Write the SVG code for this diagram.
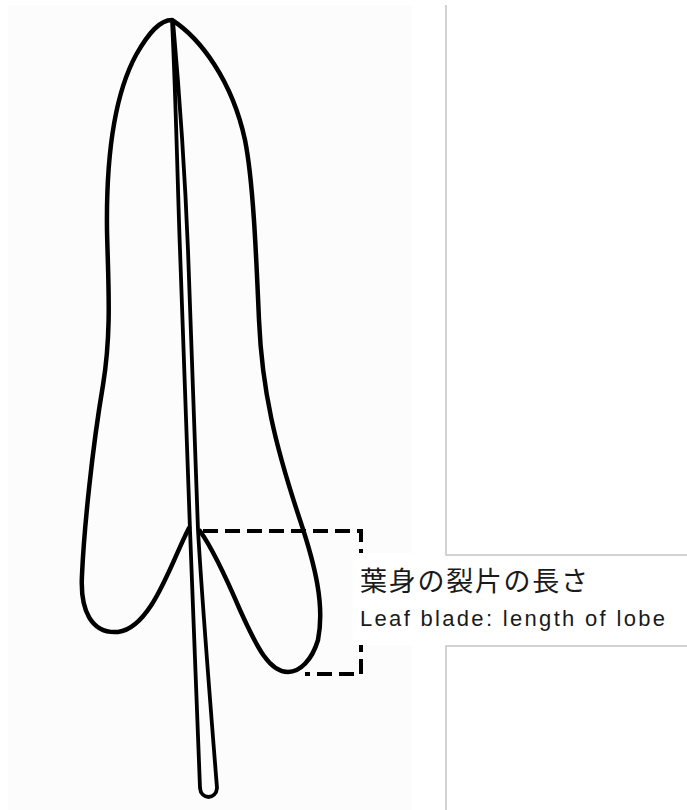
<svg xmlns="http://www.w3.org/2000/svg" width="687" height="810" viewBox="0 0 687 810">
  <style>
    .ink { fill: none; stroke: #000; stroke-width: 4.5; stroke-linecap: round; stroke-linejoin: round; }
    .stem { fill: none; stroke: #000; stroke-width: 3.8; stroke-linecap: round; stroke-linejoin: round; }
    .dash { fill: none; stroke: #000; stroke-width: 4; stroke-dasharray: 15 7; }
    .rule { stroke: #c4c4c4; stroke-width: 1.5; fill: none; }
    .jp { font-family: "Noto Sans CJK JP", "Noto Sans", sans-serif; font-size: 27px; fill: #1a1a1a; }
    .en { font-family: "Liberation Sans", Arial, sans-serif; font-size: 22px; fill: #1a1a1a; }
  </style>
  <rect x="0" y="0" width="687" height="810" fill="#ffffff"/>
  <rect x="8" y="5" width="404" height="805" fill="#fcfcfc"/>

  <g id="leaf">
    <path class="ink" d="M189,528 C172,560 152,628 118,632 C91,634 80,610 82,575 C84,530 92,450 103,385 C112,330 108,280 107,230 C106,150 116,92 136,55 C149,32 160,20 172,20 C200,38 232,80 245,140 C253,180 256,250 259,320 C262,390 275,445 300,520 C315,565 325,605 318,640 C312,660 300,672 288,672 C270,672 258,650 240,610 C225,575 210,545 200,531"/>
  </g>
  <g id="stem">
    <path class="stem" d="M172,20 C176,100 178,200 180,250 C184,350 187,450 190,530 C193,620 197,700 200,788 C201,800 216,800 217,788 C210,700 202,600 198,530 C196,450 192,350 188,250 C186,200 180,100 173,21"/>
  </g>

  <g id="connectors">
    <path class="dash" d="M203,531 H361 V674 H305"/>
  </g>

  <g id="frame">
    <rect x="353" y="553" width="334" height="92" fill="#ffffff"/>
    <path class="rule" d="M446,5 V555 H687 M446,810 V646 H687"/>
  </g>

  <g id="label">
    <text class="jp" x="360" y="591" textLength="228" lengthAdjust="spacing">葉身の裂片の長さ</text>
    <text class="en" x="360" y="626" textLength="305" lengthAdjust="spacing">Leaf blade: length of lobe</text>
  </g>
</svg>
